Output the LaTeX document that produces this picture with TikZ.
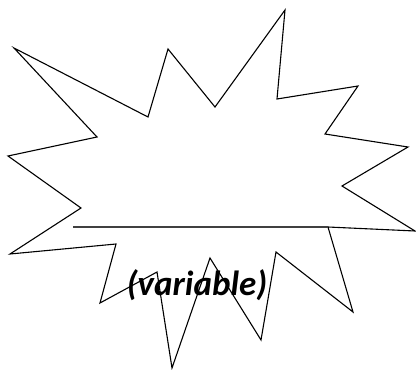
\documentclass[tikz,border=0pt]{standalone}
\usepackage{fontspec}
\setmainfont{Carlito}
\usepackage{tikz}
\usetikzlibrary{calc}

\begin{document}
\begin{tikzpicture}[x=1pt,y=-1pt]
  \useasboundingbox[fill=white] (0,0) rectangle (416,370);
  % starburst outline
  \draw[line width=1.1pt, line join=miter]
    (14,48) -- (148,117) -- (168,49) -- (215,107) -- (285,10) -- (277,99)
    -- (358,86) -- (325,134) -- (408,147) -- (342,186) -- (415,231)
    -- (328,227) -- (353,312) -- (276,252) -- (261,340) -- (210,258)
    -- (172,368) -- (157,272) -- (100,303) -- (116,244) -- (10,254)
    -- (81,208) -- (8,156) -- (97,137) -- cycle;
  % blank line
  \coordinate (ruleL) at (73,227);
  \coordinate (ruleR) at (328,227);
  \draw[line width=1.5pt, black!75] (ruleL) -- (ruleR);
  \node[font=\fontsize{35}{40}\selectfont\bfseries\itshape, anchor=base]
    (varlabel) at (197,295) {(variable)};
\end{tikzpicture}
\end{document}
